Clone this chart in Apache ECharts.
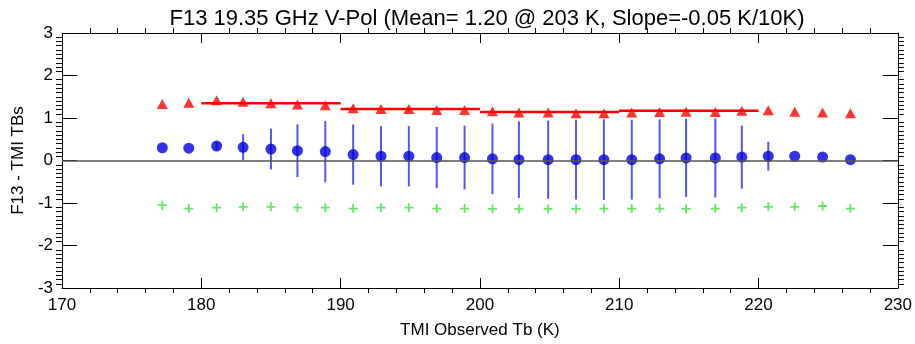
<!DOCTYPE html>
<html>
<head>
<meta charset="utf-8">
<script src="https://cdn.jsdelivr.net/npm/echarts@6/dist/echarts.min.js"></script>
<style>
  html, body { margin: 0; padding: 0; background: #fff; }
  #chart { width: 915px; height: 344px; }
</style>
</head>
<body>
<div id="chart"></div>
<script>
// bin mean Tb (K)
const tbBins = [177.2, 179.1, 181.1, 183.0, 185.0, 186.9, 188.9, 190.9, 192.9, 194.9, 196.9, 198.9, 200.9,
  202.8, 204.9, 206.9, 208.9, 210.9, 212.9, 214.8, 216.9, 218.8, 220.7, 222.6, 224.6, 226.6];
const redBias = [1.33, 1.36, 1.42, 1.38, 1.35, 1.32, 1.30, 1.23, 1.21, 1.21, 1.19, 1.19, 1.16,
  1.13, 1.13, 1.11, 1.11, 1.13, 1.14, 1.15, 1.14, 1.17, 1.18, 1.15, 1.13, 1.11];
const blueBias = [0.30, 0.29, 0.34, 0.31, 0.27, 0.23, 0.21, 0.14, 0.10, 0.10, 0.07, 0.07, 0.04,
  0.02, 0.02, 0.02, 0.02, 0.02, 0.04, 0.06, 0.06, 0.08, 0.10, 0.10, 0.08, 0.02];
const blueStd = [0, 0, 0.10, 0.31, 0.48, 0.62, 0.72, 0.71, 0.71, 0.71, 0.72, 0.75, 0.83,
  0.90, 0.92, 0.94, 0.95, 0.94, 0.93, 0.92, 0.93, 0.74, 0.34, 0, 0, 0];
const greenBias = [-1.05, -1.13, -1.11, -1.09, -1.09, -1.11, -1.11, -1.13, -1.11, -1.11, -1.13, -1.13, -1.14,
  -1.14, -1.14, -1.14, -1.13, -1.13, -1.13, -1.14, -1.13, -1.11, -1.09, -1.09, -1.07, -1.13];
// 10 K segment means
const segStart = [180, 190, 200, 210];
const segEnd = [190, 200, 210, 220];
const segMean = [1.35, 1.21, 1.14, 1.17];

const xTicks = ['170', '180', '190', '200', '210', '220', '230'];

const font = 'Liberation Sans, Arial, sans-serif';
const pair = (xs, ys) => xs.map((x, i) => [x, ys[i]]);

const segLine = [];
segStart.forEach((s, i) => {
  segLine.push([s, segMean[i]], [segEnd[i], segMean[i]], '-');
});

const chart = echarts.init(document.getElementById('chart'), null, { renderer: 'canvas' });

const baseX = {
  type: 'value', min: 170, max: 230, interval: 10,
  axisLine: { show: true, onZero: false, lineStyle: { color: '#000', width: 1 } },
  axisTick: { show: true, inside: true, length: 10, lineStyle: { color: '#000' } },
  minorTick: { show: true, splitNumber: 5, length: -5, lineStyle: { color: '#000' } },
  splitLine: { show: false }
};
const baseY = {
  type: 'value', min: -3, max: 3, interval: 1,
  axisLine: { show: true, onZero: false, lineStyle: { color: '#000', width: 1 } },
  axisTick: { show: true, inside: true, length: 15, lineStyle: { color: '#000' } },
  minorTick: { show: true, splitNumber: 10, length: -6, lineStyle: { color: '#000' } },
  splitLine: { show: false }
};

chart.setOption({
  animation: false,
  title: {
    text: 'F13 19.35 GHz V-Pol (Mean= 1.20 @ 203 K, Slope=-0.05 K/10K)',
    left: 482, top: 3, textAlign: 'center',
    textStyle: { fontFamily: font, fontSize: 22, fontWeight: 'normal', color: '#000' }
  },
  grid: { left: 62, right: 12, top: 33, bottom: 54 },
  xAxis: [
    Object.assign({}, baseX, {
      position: 'bottom',
      name: 'TMI Observed Tb (K)', nameLocation: 'middle', nameGap: 34,
      nameTextStyle: { fontFamily: font, fontSize: 17, color: '#000' },
      axisLabel: {
        margin: 9, fontFamily: font, fontSize: 17, color: '#000',
        formatter: v => xTicks[Math.round((v - 170) / 10)]
      }
    }),
    Object.assign({}, baseX, { position: 'top', axisLabel: { show: false } })
  ],
  yAxis: [
    Object.assign({}, baseY, {
      position: 'left',
      name: 'F13 - TMI TBs', nameLocation: 'middle', nameGap: 35,
      nameTextStyle: { fontFamily: font, fontSize: 17, color: '#000' },
      axisLabel: { margin: 9, fontFamily: font, fontSize: 17, color: '#000' }
    }),
    Object.assign({}, baseY, { position: 'right', axisLabel: { show: false } })
  ],
  series: [
    {
      type: 'custom',
      z: 2,
      silent: true,
      data: tbBins.map((x, i) => [x, blueBias[i], blueStd[i]]),
      renderItem: (params, api) => {
        const sd = api.value(2);
        if (!sd) return null;
        const p1 = api.coord([api.value(0), api.value(1) - sd]);
        const p2 = api.coord([api.value(0), api.value(1) + sd]);
        return {
          type: 'line',
          shape: { x1: p1[0], y1: p1[1], x2: p2[0], y2: p2[1] },
          style: { stroke: '#5656ee', lineWidth: 2 }
        };
      },
      markLine: {
        silent: true, symbol: 'none', label: { show: false },
        lineStyle: { color: '#555', width: 1.5, type: 'solid' },
        data: [{ yAxis: 0 }]
      }
    },
    {
      type: 'line', z: 3, silent: true,
      data: segLine, showSymbol: false, connectNulls: false,
      lineStyle: { color: '#ff0000', width: 2.5 }
    },
    {
      type: 'scatter', z: 4, silent: true,
      data: pair(tbBins, redBias),
      symbol: 'triangle', symbolSize: [11, 10],
      itemStyle: { color: '#ff0000' }
    },
    {
      type: 'scatter', z: 4, silent: true,
      data: pair(tbBins, blueBias),
      symbol: 'circle', symbolSize: 11,
      itemStyle: { color: '#0000dd' }
    },
    {
      type: 'scatter', z: 4, silent: true,
      data: pair(tbBins, greenBias),
      symbol: 'path://M4,0H6V4H10V6H6V10H4V6H0V4H4Z', symbolSize: 9,
      itemStyle: { color: '#3ee03e' }
    }
  ]
});
</script>
</body>
</html>
